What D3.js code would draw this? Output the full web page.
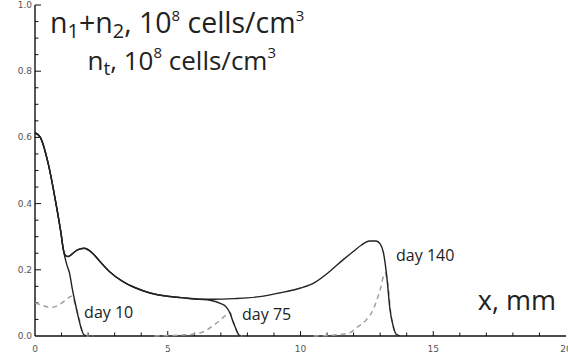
<!DOCTYPE html>
<html>
<head>
<meta charset="utf-8">
<script src="https://cdn.jsdelivr.net/npm/d3@7"></script>
<style>
  html, body { margin: 0; padding: 0; background: #fff; }
  svg { display: block; }
</style>
</head>
<body>
<svg id="chart" width="568" height="358"></svg>
<script>
// ---- data ----
const xTicks = [0, 5, 10, 15, 20];
const yTicks = [0.0, 0.2, 0.4, 0.6, 0.8, 1.0];
const yTickLabels = ["0.0", "0.2", "0.4", "0.6", "0.8", "1.0"];

// solid curves: n1+n2
const day10Solid = [
  [0, 0.614], [0.2, 0.6], [0.5, 0.52], [0.79, 0.40], [0.98, 0.31], [1.07, 0.26],
  [1.2, 0.215], [1.3, 0.19], [1.4, 0.145], [1.5, 0.105], [1.63, 0.058],
  [1.75, 0.02], [1.85, 0.003], [1.95, 0]
];
const day75Solid = [
  [0, 0.614], [0.2, 0.6], [0.5, 0.52], [0.79, 0.40], [0.98, 0.31], [1.07, 0.26],
  [1.15, 0.243], [1.25, 0.24], [1.4, 0.248], [1.6, 0.26], [1.85, 0.265],
  [2.1, 0.255], [2.45, 0.225], [2.8, 0.195], [3.3, 0.165], [3.8, 0.145],
  [4.33, 0.13], [5.0, 0.12], [5.5, 0.116], [6.2, 0.111],
  [6.6, 0.108], [7.0, 0.098], [7.2, 0.088], [7.34, 0.07], [7.45, 0.045],
  [7.55, 0.025], [7.66, 0.005], [7.75, 0]
];
const day140Solid = [
  [0, 0.614], [0.2, 0.6], [0.5, 0.52], [0.79, 0.40], [0.98, 0.31], [1.07, 0.26],
  [1.15, 0.243], [1.25, 0.24], [1.4, 0.248], [1.6, 0.26], [1.85, 0.265],
  [2.1, 0.255], [2.45, 0.225], [2.8, 0.195], [3.3, 0.165], [3.8, 0.145],
  [4.33, 0.13], [5.0, 0.12], [5.5, 0.116], [6.2, 0.111],
  [6.7, 0.111], [7.5, 0.113], [8.47, 0.119], [9.2, 0.13], [10.0, 0.145],
  [10.5, 0.16], [11.1, 0.195], [11.6, 0.23], [12.0, 0.256], [12.3, 0.275],
  [12.6, 0.287], [12.85, 0.287], [13.0, 0.278], [13.12, 0.253], [13.25, 0.18],
  [13.37, 0.08], [13.5, 0.027], [13.62, 0.004], [13.75, 0]
];

// dashed curves: nt
const day10Dashed = [
  [0, 0.10], [0.3, 0.092], [0.6, 0.086], [0.9, 0.094], [1.15, 0.108], [1.38, 0.12],
  [1.5, 0.1], [1.65, 0.055], [1.8, 0.012], [1.95, 0], [2.2, 0]
];
const day75Dashed = [
  [4.5, 0], [5.5, 0.003], [6.0, 0.006], [6.35, 0.013], [6.85, 0.04],
  [7.22, 0.064], [7.35, 0.07], [7.45, 0.045], [7.55, 0.025], [7.66, 0.005], [7.8, 0]
];
const day140Dashed = [
  [10.5, 0], [11.5, 0.005], [11.86, 0.01], [12.11, 0.025], [12.49, 0.05],
  [12.74, 0.08], [13.0, 0.14], [13.18, 0.19], [13.3, 0.15], [13.4, 0.07],
  [13.5, 0.027], [13.62, 0.004], [13.75, 0]
];

const dayLabels = [
  { text: "day 10", x: 1.85, y: 0.054 },
  { text: "day 75", x: 7.8, y: 0.048 },
  { text: "day 140", x: 13.6, y: 0.228 }
];

// ---- drawing ----
const svg = d3.select("#chart");
const x = d3.scaleLinear().domain([0, 20]).range([35, 566]);
const y = d3.scaleLinear().domain([0, 1]).range([336, 5]);

const tickFont = "'DejaVu Sans', sans-serif";
const textFont = "'Open Sans', sans-serif";

// x axis
const xAxis = svg.append("g").attr("transform", `translate(0,${y(0)})`);
xAxis.append("line").attr("x1", x(0)).attr("x2", x(20)).attr("stroke", "#111").attr("stroke-width", 1.4);
xAxis.selectAll("line.minor").data(d3.range(1, 20)).enter().append("line")
  .attr("x1", d => x(d)).attr("x2", d => x(d)).attr("y1", 0).attr("y2", d => d % 5 === 0 ? -5 : -3.5)
  .attr("stroke", "#111").attr("stroke-width", 1);
xAxis.selectAll("text").data(xTicks).enter().append("text")
  .attr("x", d => x(d)).attr("y", 16).attr("text-anchor", "middle")
  .attr("font-family", tickFont).attr("font-size", 9).attr("fill", "#555")
  .text(d => d);

// y axis
const yAxis = svg.append("g").attr("transform", `translate(${x(0)},0)`);
yAxis.append("line").attr("y1", y(0)).attr("y2", y(1)).attr("stroke", "#111").attr("stroke-width", 1.4);
yAxis.selectAll("line.minor").data(d3.range(1, 21).map(d => d * 0.05)).enter().append("line")
  .attr("y1", d => y(d)).attr("y2", d => y(d)).attr("x1", 0)
  .attr("x2", (d, i) => ((i + 1) % 4 === 0) ? 6 : 3.5)
  .attr("stroke", "#111").attr("stroke-width", 1);
yAxis.selectAll("text").data(yTicks).enter().append("text")
  .attr("x", -3).attr("y", d => y(d) + 3).attr("text-anchor", "end")
  .attr("font-family", tickFont).attr("font-size", 9).attr("fill", "#555")
  .text((d, i) => yTickLabels[i]);

// curves
const line = d3.line().x(d => x(d[0])).y(d => y(d[1])).curve(d3.curveMonotoneX);

[day10Dashed, day75Dashed, day140Dashed].forEach(s => {
  svg.append("path").attr("d", line(s)).attr("fill", "none")
    .attr("stroke", "#a0a0a0").attr("stroke-width", 1.5).attr("stroke-dasharray", "5,4");
});
[day140Solid, day75Solid, day10Solid].forEach(s => {
  svg.append("path").attr("d", line(s)).attr("fill", "none")
    .attr("stroke", "#222").attr("stroke-width", 1.4);
});

// day labels
svg.selectAll("text.day").data(dayLabels).enter().append("text")
  .attr("class", "day")
  .attr("x", d => x(d.x)).attr("y", d => y(d.y))
  .attr("font-family", textFont).attr("font-size", 16).attr("fill", "#222")
  .text(d => d.text);

// x axis title
svg.append("text").attr("x", 556).attr("y", 310).attr("text-anchor", "end")
  .attr("font-family", textFont).attr("font-size", 27).attr("fill", "#222")
  .text("x, mm");

// y titles
function title(tx, ty, parts, anchor, size, subSize) {
  const t = svg.append("text").attr("x", tx).attr("y", ty).attr("text-anchor", anchor)
    .attr("font-family", textFont).attr("font-size", size).attr("fill", "#222");
  parts.forEach(p => {
    const s = t.append("tspan").text(p.t);
    if (p.sub) s.attr("font-size", subSize).attr("dy", 5);
    if (p.sup) s.attr("font-size", 15).attr("dy", -12);
    if (p.back) s.attr("dy", p.back);
  });
  return t;
}
title(50, 33, [
  { t: "n" }, { t: "1", sub: true }, { t: "+n", back: -5 }, { t: "2", sub: true },
  { t: ", 10", back: -5 }, { t: "8", sup: true }, { t: " cells/cm", back: 12 }, { t: "3", sup: true }
], "start", 28.5, 20);
title(276, 70, [
  { t: "n" }, { t: "t", sub: true }, { t: ", 10", back: -5 }, { t: "8", sup: true },
  { t: " cells/cm", back: 12 }, { t: "3", sup: true }
], "end", 26, 19);
</script>
</body>
</html>
